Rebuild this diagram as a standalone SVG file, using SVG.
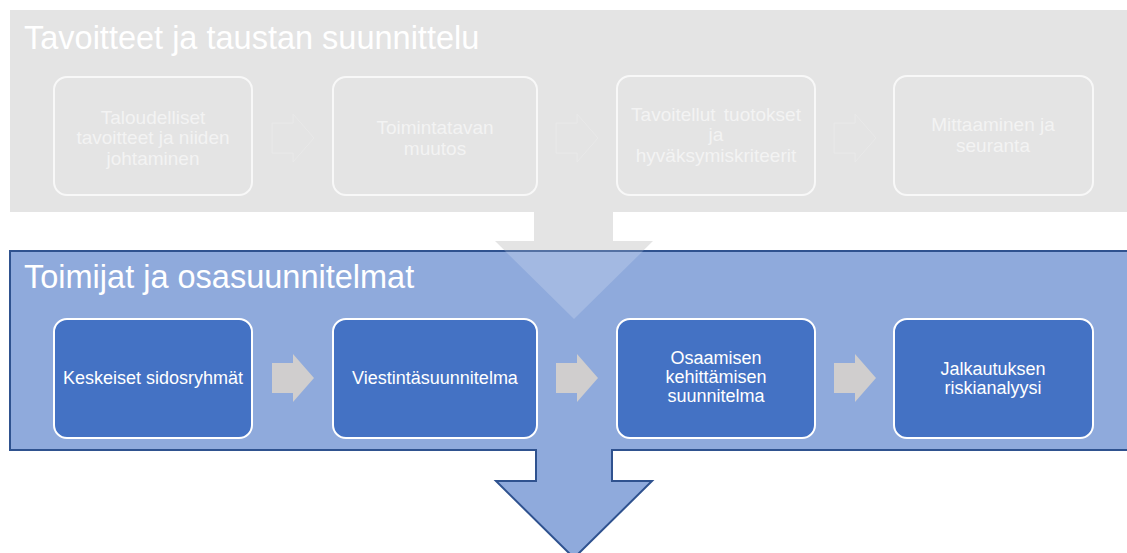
<svg xmlns="http://www.w3.org/2000/svg" width="1127" height="553" viewBox="0 0 1127 553">
  <style>
    .title { font-family: "Liberation Sans", Arial, sans-serif; font-size: 32.5px; fill: #FFFFFF; }
    .utext { font-family: "Liberation Sans", Arial, sans-serif; font-size: 19px; fill: #F3F3F3; text-anchor: middle; }
    .ltext { font-family: "Liberation Sans", Arial, sans-serif; font-size: 18px; fill: #FFFFFF; text-anchor: middle; }
    .unode { fill: none; stroke: #F8F8F8; stroke-width: 2; }
    .lnode { fill: #4472C4; stroke: #FFFFFF; stroke-width: 2; }
    .garrow { fill: #D0CECE; }
    .farrow { fill: #E4E4E4; stroke: #E9E9E9; stroke-width: 1; }
  </style>
  <defs>
    <path id="chev" d="M0,9 H21 V0 L42,24 L21,48 V39 H0 Z"/>
  </defs>

  <!-- upper gray band with down arrow -->
  <g id="band-top">
    <path d="M10,10 H1130 V212 H613 V241 H653 L574,319 L495,241 H534 V212 H10 Z" fill="#E4E4E4"/>
  </g>

  <!-- lower blue band with down arrow -->
  <g id="band-bottom">
    <path d="M10,251 H1132 V450 H612 V481 H652 L574,558 L496,481 H536 V450 H10 Z" fill="#8FAADC" stroke="#2F528F" stroke-width="2"/>
    <polygon points="504,250 644,250 574,319" fill="#FFFFFF" fill-opacity="0.18"/>
  </g>

  <text class="title" x="24" y="49">Tavoitteet ja taustan suunnittelu</text>
  <text class="title" x="24" y="288">Toimijat ja osasuunnitelmat</text>

  <!-- connectors -->
  <g id="connectors">
    <use href="#chev" x="272" y="114" class="farrow"/>
    <use href="#chev" x="556" y="114" class="farrow"/>
    <use href="#chev" x="834" y="114" class="farrow"/>
    <use href="#chev" x="272" y="354" class="garrow"/>
    <use href="#chev" x="556" y="354" class="garrow"/>
    <use href="#chev" x="834" y="354" class="garrow"/>
  </g>

  <!-- upper nodes -->
  <g id="u1">
    <rect class="unode" x="54" y="77" width="198" height="118" rx="13"/>
    <text class="utext" x="153" y="124">Taloudelliset</text>
    <text class="utext" x="153" y="144">tavoitteet ja niiden</text>
    <text class="utext" x="153" y="165">johtaminen</text>
  </g>
  <g id="u2">
    <rect class="unode" x="333" y="77" width="204" height="118" rx="13"/>
    <text class="utext" x="435" y="134">Toimintatavan</text>
    <text class="utext" x="435" y="155">muutos</text>
  </g>
  <g id="u3">
    <rect class="unode" x="617" y="76" width="198" height="119" rx="13"/>
    <text class="utext" x="716" y="121" word-spacing="3">Tavoitellut tuotokset</text>
    <text class="utext" x="716" y="141">ja</text>
    <text class="utext" x="716" y="162">hyväksymiskriteerit</text>
  </g>
  <g id="u4">
    <rect class="unode" x="894" y="76" width="199" height="119" rx="13"/>
    <text class="utext" x="993" y="131">Mittaaminen ja</text>
    <text class="utext" x="993" y="152">seuranta</text>
  </g>

  <!-- lower nodes -->
  <g id="l1">
    <rect class="lnode" x="54" y="319" width="198" height="119" rx="13"/>
    <text class="ltext" x="153" y="384">Keskeiset sidosryhmät</text>
  </g>
  <g id="l2">
    <rect class="lnode" x="333" y="319" width="204" height="119" rx="13"/>
    <text class="ltext" x="435" y="384">Viestintäsuunnitelma</text>
  </g>
  <g id="l3">
    <rect class="lnode" x="617" y="319" width="198" height="119" rx="13"/>
    <text class="ltext" x="716" y="364">Osaamisen</text>
    <text class="ltext" x="716" y="383">kehittämisen</text>
    <text class="ltext" x="716" y="402">suunnitelma</text>
  </g>
  <g id="l4">
    <rect class="lnode" x="894" y="319" width="199" height="119" rx="13"/>
    <text class="ltext" x="993" y="375">Jalkautuksen</text>
    <text class="ltext" x="993" y="394">riskianalyysi</text>
  </g>
</svg>
